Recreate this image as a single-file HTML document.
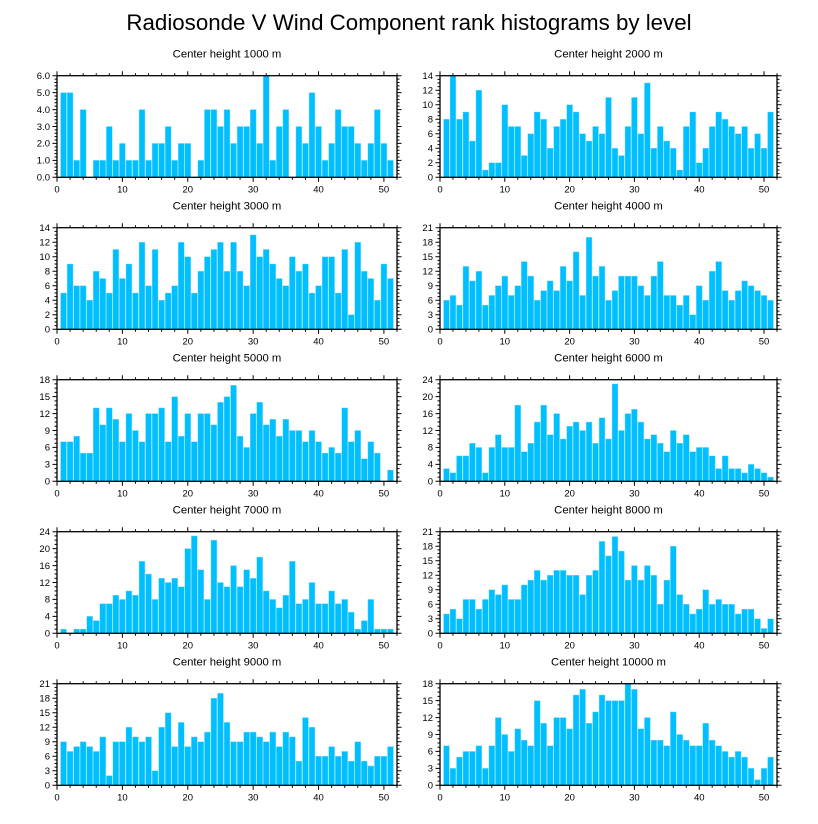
<!DOCTYPE html>
<html><head><meta charset="utf-8">
<style>
html,body{margin:0;padding:0;background:#fff;}
svg{display:block;font-family:"Liberation Sans",Arial,sans-serif;}
</style></head>
<body>
<svg id="chart" width="818" height="824" viewBox="0 0 818 824" xmlns="http://www.w3.org/2000/svg">
<text x="409" y="30" text-anchor="middle" font-size="22.3" fill="#000">Radiosonde V Wind Component rank histograms by level</text>
</svg>
<script>
const bins = [1,2,3,4,5,6,7,8,9,10,11,12,13,14,15,16,17,18,19,20,21,22,23,24,25,26,27,28,29,30,31,32,33,34,35,36,37,38,39,40,41,42,43,44,45,46,47,48,49,50,51];
const xTicks = [0,10,20,30,40,50];
const levelNames = ["Center height 1000 m","Center height 2000 m","Center height 3000 m","Center height 4000 m","Center height 5000 m","Center height 6000 m","Center height 7000 m","Center height 8000 m","Center height 9000 m","Center height 10000 m"];
const v1000 = [5,5,1,4,0,1,1,3,1,2,1,1,4,1,2,2,3,1,2,2,0,1,4,4,3,4,2,3,3,4,2,6,1,3,4,0,3,2,5,3,1,2,4,3,3,2,1,2,4,2,1];
const v2000 = [8,14,8,9,5,12,1,2,2,10,7,7,3,6,9,8,4,7,8,10,9,6,5,7,6,11,4,3,7,11,6,13,4,7,5,4,1,7,9,2,4,7,9,8,7,6,7,4,6,4,9];
const v3000 = [5,9,6,6,4,8,7,5,11,7,9,5,12,6,11,4,5,6,12,10,5,8,10,11,12,8,12,8,6,13,10,11,9,7,6,10,8,9,5,6,10,10,5,11,2,12,8,7,4,9,7];
const v4000 = [6,7,5,13,10,12,5,7,9,11,7,9,14,11,6,8,10,8,13,10,16,7,19,11,13,6,8,11,11,11,9,7,11,14,7,7,5,7,3,9,6,12,14,8,6,8,10,9,8,7,6];
const v5000 = [7,7,8,5,5,13,10,13,11,7,12,9,7,12,12,13,7,15,8,12,7,12,12,10,14,15,17,8,6,12,14,10,11,8,11,9,9,7,9,7,5,6,5,13,7,9,4,7,5,0,2];
const v6000 = [3,2,6,6,9,8,2,8,11,8,8,18,7,9,14,18,11,16,10,13,14,12,14,9,15,10,23,12,16,17,14,10,11,9,7,12,9,11,7,8,8,6,3,6,3,3,2,4,3,2,1];
const v7000 = [1,0,1,1,4,3,7,7,9,8,10,9,17,14,8,13,12,13,11,20,23,15,8,22,12,11,16,11,15,13,18,10,8,6,9,17,7,8,12,7,7,10,7,8,5,1,3,8,1,1,1];
const v8000 = [4,5,3,7,7,5,7,9,8,10,7,7,10,11,13,11,12,13,13,12,12,8,12,13,19,16,20,17,11,14,11,14,12,6,11,18,8,6,4,5,9,6,7,6,6,4,5,5,3,1,3];
const v9000 = [9,7,8,9,8,7,10,2,9,9,12,10,9,10,3,12,15,8,13,8,10,9,11,18,19,13,9,9,11,11,10,9,11,8,11,10,5,14,12,6,6,8,6,7,5,9,5,4,6,6,8];
const v10000 = [7,3,5,6,6,7,3,7,12,9,6,10,8,7,15,11,7,12,12,10,16,17,11,13,16,15,15,15,18,17,10,12,8,8,7,13,9,8,7,7,11,8,7,6,5,6,5,3,1,3,5];
const yMaxes = [6,14,14,21,18,24,24,21,21,18];
const yStepTicks = [1,2,2,3,3,4,4,3,3,3];

const series = [v1000,v2000,v3000,v4000,v5000,v6000,v7000,v8000,v9000,v10000];
const NS = "http://www.w3.org/2000/svg";
const svg = document.getElementById("chart");
function mk(tag, attrs, parent){
  const e = document.createElementNS(NS, tag);
  for (const k in attrs) e.setAttribute(k, attrs[k]);
  (parent||svg).appendChild(e);
  return e;
}
const xMin = 0, xMax = 52;
for (let p = 0; p < 10; p++) {
  const col = p % 2, row = Math.floor(p / 2);
  const left = col === 0 ? 57 : 440;
  const width = col === 0 ? 340 : 337;
  const top = 75.7 + row * 152;
  const height = 101.6;
  const bottom = top + height;
  const yMax = yMaxes[p], step = yStepTicks[p];
  const xs = v => left + (v - xMin) / (xMax - xMin) * width;
  const ys = v => bottom - v / yMax * height;

  const g = mk("g", {});
  
  

  const t = mk("text", {x: left + width/2, y: top - 18, "text-anchor": "middle", "font-size": "11.3", fill: "#000"}, g);
  t.textContent = levelNames[p];
  
  

  const vals = series[p];
  for (let i = 0; i < bins.length; i++) {
    const v = vals[i];
    if (v <= 0) continue;
    const x0 = xs(bins[i] - 0.45), x1 = xs(bins[i] + 0.45);
    const r = mk("rect", {x: x0, y: ys(v), width: x1 - x0, height: ys(0) - ys(v), fill: "#00bfff", stroke: "#7fdcff", "stroke-width": "0.4"}, g);
    
    
  }

  const fr = mk("rect", {x: left, y: top, width: width, height: height, fill: "none", stroke: "#000", "stroke-width": "1.3"}, g);
  
  

  let tickPath = "";
  for (let v = 0; v <= 52; v += 2) {
    const major = v % 10 === 0;
    const L = major ? 4.5 : 2.5;
    const x = xs(v);
    tickPath += `M${x},${bottom}v${L}M${x},${top}v${-L}`;
  }
  const minorDiv = p === 0 ? 5 : 4;
  for (let k = 0; k * step <= yMax + 1e-9; k++) {
    const y = ys(k * step);
    tickPath += `M${left},${y}h-4.5M${left+width},${y}h4.5`;
    if (k * step < yMax) {
      for (let m = 1; m < minorDiv; m++) {
        const ym = ys(k * step + m * step / minorDiv);
        tickPath += `M${left},${ym}h-2.5M${left+width},${ym}h2.5`;
      }
    }
  }
  const tp = mk("path", {d: tickPath, stroke: "#000", "stroke-width": "1", fill: "none"}, g);
  
  

  for (const v of xTicks) {
    const tx = mk("text", {x: xs(v), y: bottom + 15, "text-anchor": "middle", "font-size": "9.5", fill: "#000"}, g);
    tx.textContent = String(v);
    
    
  }
  for (let k = 0; k * step <= yMax + 1e-9; k++) {
    const ty = mk("text", {x: left - 7, y: ys(k * step) + 3.3, "text-anchor": "end", "font-size": "9.5", fill: "#000"}, g);
    ty.textContent = p === 0 ? (k * step).toFixed(1) : String(k * step);
    
    
  }
}
</script>
</body></html>
